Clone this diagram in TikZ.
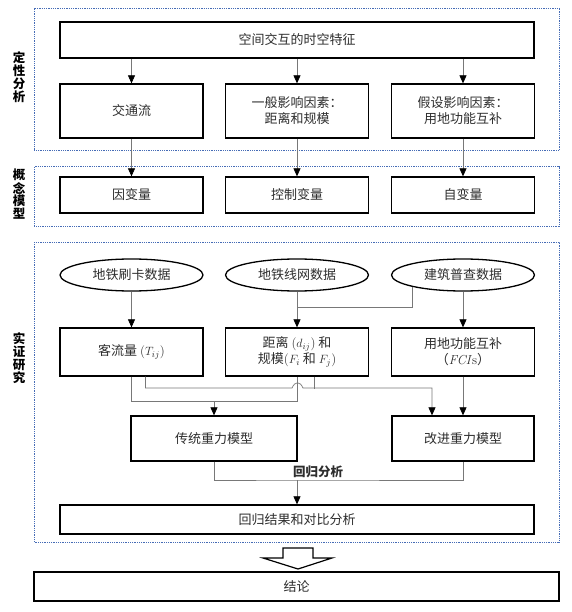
\documentclass[tikz,border=0pt]{standalone}
\usepackage{fontspec}
\newfontfamily\cjk{Noto Sans CJK SC}
\usepackage{xcolor}
\usepackage{tikz}
\usetikzlibrary{arrows.meta,shapes.geometric,calc}

\definecolor{frameblue}{RGB}{70,108,182}
\definecolor{linegray}{RGB}{120,120,120}
\definecolor{textgray}{RGB}{45,45,45}
\newcommand{\lat}[1]{{\rmfamily #1}}

\begin{document}
\begin{tikzpicture}[x=1pt, y=-1pt,
    box/.style={draw=black, line width=1.3pt, fill=white, inner sep=0pt, align=center,
        text=textgray, font=\cjk\fontsize{13}{16}\selectfont},
    databox/.style={ellipse, draw=black, line width=1.3pt, fill=white, inner sep=0pt,
        minimum width=143pt, minimum height=32pt, text=textgray, font=\cjk\fontsize{13}{16}\selectfont},
    frame/.style={draw=frameblue, line width=1pt, dash pattern=on 1pt off 0.8pt},
    sidechar/.style={inner sep=0pt, font=\cjk\bfseries\fontsize{12.5}{13}\selectfont},
    line/.style={draw=linegray, line width=0.7pt},
    arr/.style={line, -{Triangle[width=7pt,length=8pt,color=black]}}]
    \useasboundingbox (0,0) rectangle (571,612);

    % dotted frames
    \draw[frame] (34,9) rectangle (559,151);
    \draw[frame] (34,167) rectangle (559,226);
    \draw[frame] (34,242) rectangle (559,542);
    \foreach \c [count=\i] in {定,性,分,析}
        \node[sidechar] (labA\i) at (19,45+13*\i) {\c};
    \foreach \c [count=\i] in {概,念,模,型}
        \node[sidechar] (labB\i) at (19,162+13*\i) {\c};
    \foreach \c [count=\i] in {实,证,研,究}
        \node[sidechar] (labC\i) at (19,326+13*\i) {\c};

    % qualitative analysis
    \node[box, minimum width=474pt, minimum height=36pt] (feat) at (297,40) {空间交互的时空特征};
    \node[box, minimum width=143pt, minimum height=54pt] (flow) at (131.5,111) {交通流};
    \node[box, minimum width=143pt, minimum height=54pt] (gen) at (297,111) {一般影响因素：\\距离和规模};
    \node[box, minimum width=143pt, minimum height=54pt] (hyp) at (463,111) {假设影响因素：\\用地功能互补};

    % concept model
    \node[box, minimum width=143pt, minimum height=36pt] (dep) at (131.5,195) {因变量};
    \node[box, minimum width=143pt, minimum height=36pt] (ctrl) at (297,195) {控制变量};
    \node[box, minimum width=143pt, minimum height=36pt] (indep) at (463,195) {自变量};

    \foreach \a/\b in {flow/dep, gen/ctrl, hyp/indep} {
        \draw[arr] (feat.south -| \a.north) -- (\a.north);
        \draw[arr] (\a.south) -- (\b.north);
    }

    % empirical study
    \node[databox] (card) at (131.5,275) {地铁刷卡数据};
    \node[databox] (net) at (297,275) {地铁线网数据};
    \node[databox] (bldg) at (463,275) {建筑普查数据};

    \node[box, minimum width=143pt, minimum height=48pt] (pass) at (131.5,352) {客流量 \lat{($T_{ij}$)}};
    \node[box, minimum width=143pt, minimum height=48pt] (dist) at (297,352) {距离 \lat{($d_{ij}$)} 和\\规模\lat{($F_i$} 和 \lat{$F_j$)}};
    \node[box, minimum width=143pt, minimum height=48pt] (fci) at (463,352) {用地功能互补\\（\lat{\textit{FCI}s}）};

    \coordinate (jn) at (297,307);
    \draw[arr] (card.south) -- (pass.north);
    \draw[arr] (net.south) -- (dist.north);
    \draw[line] (bldg.193) |- (jn);
    \draw[arr] (bldg.south) -- (fci.north);

    \node[box, minimum width=166pt, minimum height=45pt] (trad) at (214,438.5) {传统重力模型};
    \node[box, minimum width=142pt, minimum height=45pt] (impr) at (463,438.5) {改进重力模型};

    \coordinate (ta) at (214,401);
    \draw[line] (pass.south) |- (dist.south |- ta) -- (dist.south);
    \draw[arr] (ta) -- (trad.north);
    \draw[arr] ([xshift=14pt]pass.south) |- (292,388) .. controls (295,381) and (300,381) .. (303,388)
        -| ([xshift=-31pt]impr.north);
    \draw[line] ([xshift=17pt]dist.south) -- +(0,12);
    \draw[arr] (fci.south) -- (impr.north);

    \node[box, minimum width=474pt, minimum height=29pt] (res) at (297,519.5) {回归结果和对比分析};
    \coordinate (reg) at (297,480);
    \draw[line] (trad.south) |- (reg) -| (impr.south);
    \draw[arr] (reg) -- (res.north);
    \node[text=textgray, font=\cjk\bfseries\fontsize{12.5}{14}\selectfont, anchor=south, inner sep=1pt] (regl) at (318,479) {回归分析};

    % conclusion
    \draw[black, line width=1.2pt, fill=white] (283,548) -- (313,548) -- (313,558) -- (332,558)
        -- (298,569) -- (263,558) -- (283,558) -- cycle;
    \node[box, minimum width=525pt, minimum height=29pt] (concl) at (296.5,586.5) {结论};
\end{tikzpicture}
\end{document}
